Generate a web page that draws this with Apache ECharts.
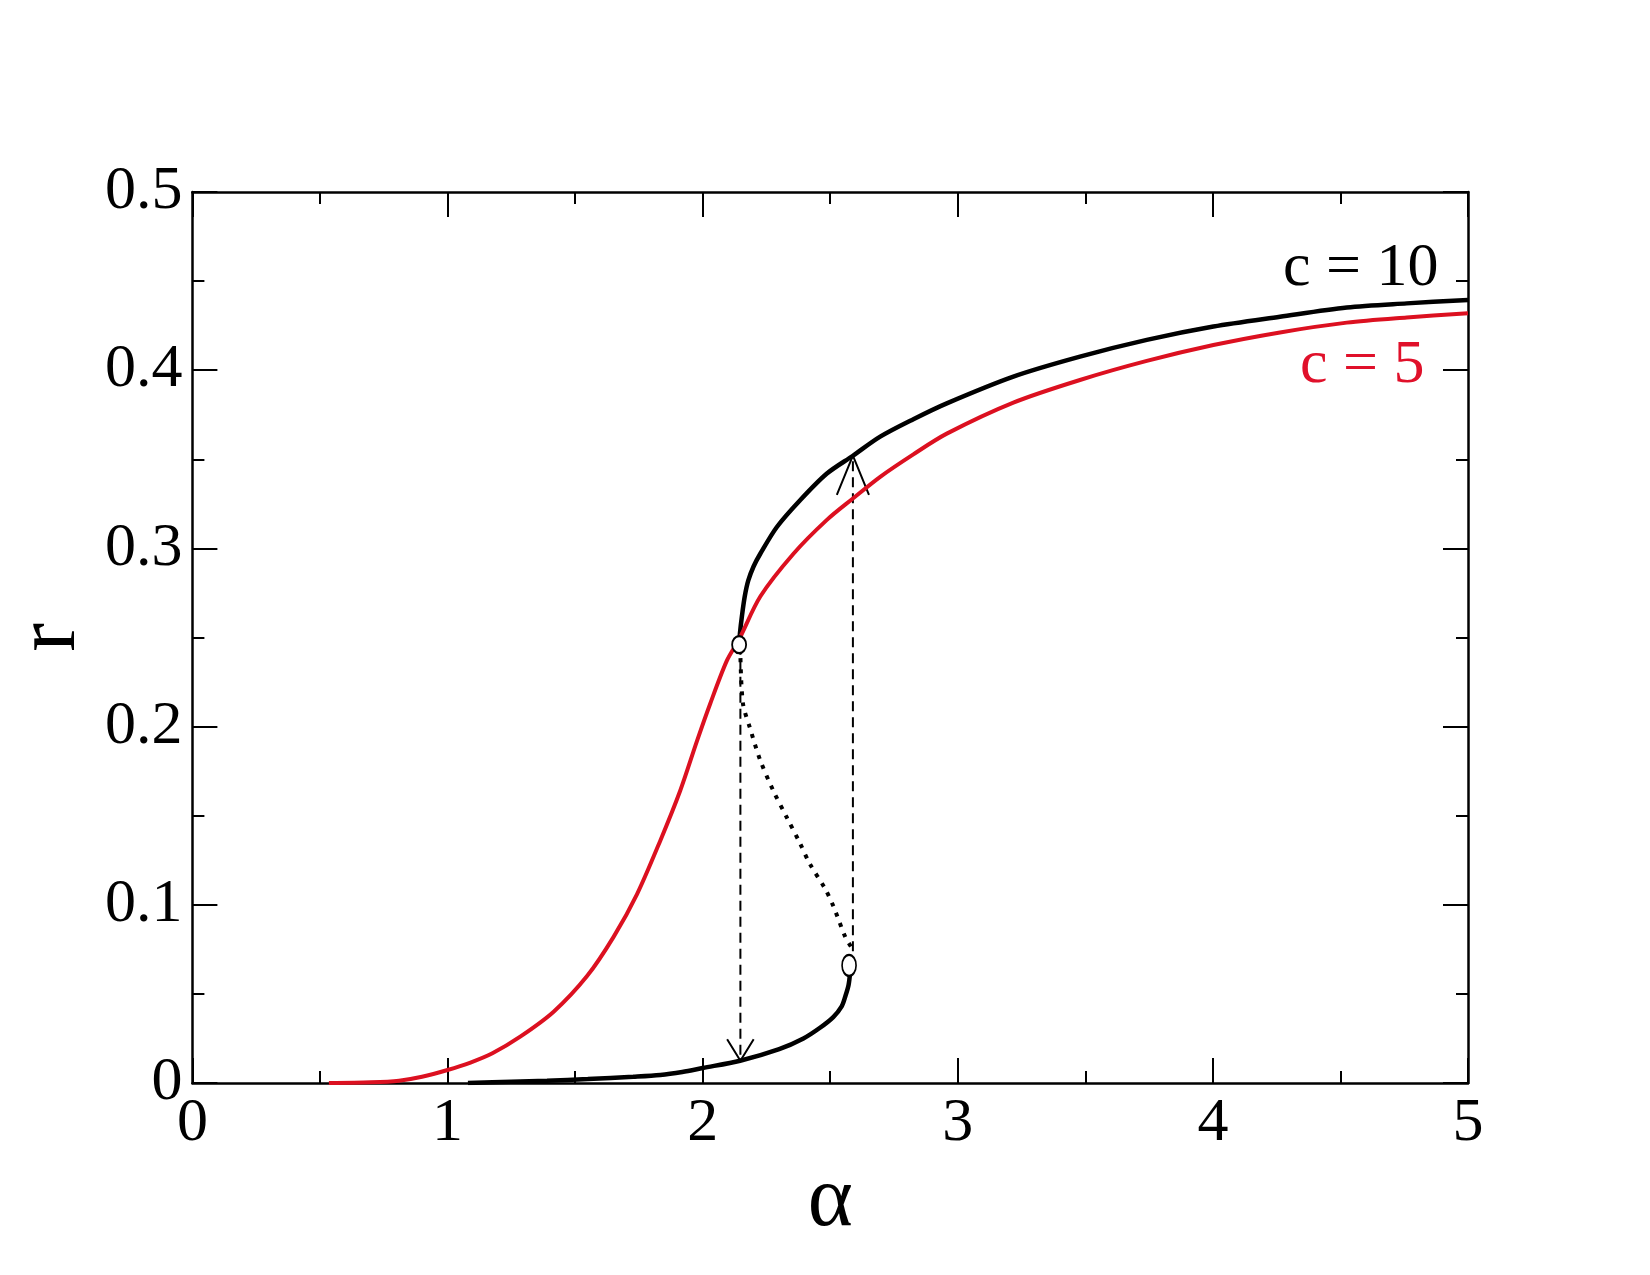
<!DOCTYPE html>
<html>
<head>
<meta charset="utf-8">
<script src="https://cdn.jsdelivr.net/npm/echarts@6/dist/echarts.min.js"></script>
<style>
    html, body { margin: 0; padding: 0; background: #fff; }
    #chart { width: 1650px; height: 1275px; }
</style>
</head>
<body>
<div id="chart"></div>
<script>
    // c = 10, lower stable branch
    var alphaLow10 = [1.08, 1.25, 1.39, 1.55, 1.728, 1.834, 1.92, 2.0, 2.147, 2.3, 2.395, 2.46, 2.512, 2.545, 2.559, 2.572, 2.578];
    var rLow10     = [0.0, 0.0007, 0.0013, 0.0022, 0.0035, 0.0045, 0.0062, 0.0084, 0.0125, 0.019, 0.025, 0.031, 0.037, 0.043, 0.0485, 0.055, 0.062];
    // c = 10, unstable branch (dotted)
    var alphaMid10 = [2.581, 2.559, 2.513, 2.48, 2.42, 2.38, 2.33, 2.277, 2.226, 2.186, 2.158, 2.148];
    var rMid10     = [0.0766, 0.082, 0.099, 0.109, 0.123, 0.135, 0.149, 0.164, 0.181, 0.199, 0.213, 0.24];
    // c = 10, upper stable branch
    var alphaUp10 = [2.143, 2.146, 2.154, 2.165, 2.179, 2.2, 2.226, 2.291, 2.382, 2.487, 2.589, 2.696, 2.826, 2.957, 3.218, 3.479, 3.741, 4.002, 4.263, 4.525, 4.76, 5.0];
    var rUp10     = [0.246, 0.252, 0.262, 0.273, 0.282, 0.29, 0.297, 0.312, 0.327, 0.342, 0.352, 0.3627, 0.3725, 0.3814, 0.3964, 0.4076, 0.417, 0.4245, 0.430, 0.4352, 0.4375, 0.4394];
    // c = 5
    var alpha5 = [0.535, 0.7, 0.81, 0.9, 1.0, 1.09, 1.176, 1.285, 1.416, 1.547, 1.651, 1.743, 1.834, 1.912, 1.978, 2.03, 2.095, 2.143, 2.226, 2.356, 2.487, 2.589, 2.696, 2.826, 2.957, 3.218, 3.479, 3.741, 4.002, 4.263, 4.525, 4.76, 5.0];
    var r5     = [0.0, 0.0004, 0.0013, 0.0035, 0.0073, 0.0115, 0.0167, 0.026, 0.040, 0.060, 0.082, 0.106, 0.136, 0.164, 0.192, 0.213, 0.237, 0.249, 0.273, 0.297, 0.316, 0.328, 0.3402, 0.3528, 0.3644, 0.3818, 0.3945, 0.4052, 0.4141, 0.4212, 0.4267, 0.4296, 0.432];
    // jumps (dashed) and turning points
    var jumpDownAlpha = 2.148, jumpDownFrom = 0.246, jumpDownTo = 0.0125;
    var jumpUpAlpha = 2.589, jumpUpFrom = 0.074, jumpUpTo = 0.352;
    var turnAlpha = [2.143, 2.574];
    var turnR     = [0.246, 0.066];
    var xTicks = [0, 1, 2, 3, 4, 5];
    var yTicks = [0, 0.1, 0.2, 0.3, 0.4, 0.5];

    function zip(xs, ys) {
        var out = [];
        for (var i = 0; i < xs.length; i++) out.push([xs[i], ys[i]]);
        return out;
    }

    var serif = 'Liberation Serif';
    var red = '#dc1020';

    function axisBase(pos, showLabel) {
        return {
            type: 'value',
            position: pos,
            axisLine: { show: true, onZero: false, lineStyle: { color: '#000', width: 2.5 } },
            axisTick: { show: true, inside: true, length: 25, lineStyle: { color: '#000', width: 2 } },
            minorTick: { show: true, splitNumber: 2, length: 12, lineStyle: { color: '#000', width: 2 } },
            splitLine: { show: false },
            minorSplitLine: { show: false },
            axisLabel: { show: showLabel, fontFamily: serif, fontSize: 62, color: '#000' }
        };
    }

    var xBottom = axisBase('bottom', true);
    xBottom.min = xTicks[0]; xBottom.max = xTicks[xTicks.length - 1]; xBottom.interval = 1;
    xBottom.axisLabel.margin = 10;
    xBottom.name = 'α';
    xBottom.nameLocation = 'middle';
    xBottom.nameGap = 33;
    xBottom.nameTextStyle = { fontFamily: serif, fontSize: 86, color: '#000' };
    var xTop = axisBase('top', false);
    xTop.min = 0; xTop.max = 5; xTop.interval = 1;

    var yLeft = axisBase('left', true);
    yLeft.min = yTicks[0]; yLeft.max = yTicks[yTicks.length - 1]; yLeft.interval = 0.1;
    yLeft.axisLabel.margin = 10;
    yLeft.name = 'r';
    yLeft.nameLocation = 'middle';
    yLeft.nameGap = 76;
    yLeft.nameRotate = 90;
    yLeft.nameTextStyle = { fontFamily: serif, fontSize: 86, color: '#000' };
    var yRight = axisBase('right', false);
    yRight.min = 0; yRight.max = 0.5; yRight.interval = 0.1;

    // open V arrow heads at the ends of the jumps
    var downHead = [[jumpDownAlpha - 0.052, jumpDownTo + 0.012], [jumpDownAlpha, jumpDownTo], [jumpDownAlpha + 0.052, jumpDownTo + 0.012]];
    var upHead = [[jumpUpAlpha - 0.063, jumpUpTo - 0.022], [jumpUpAlpha, jumpUpTo], [jumpUpAlpha + 0.063, jumpUpTo - 0.022]];

    var lineDefaults = { type: 'line', symbol: 'none', showSymbol: false, xAxisIndex: 0, yAxisIndex: 0, silent: true };

    var option = {
        animation: false,
        backgroundColor: '#fff',
        grid: { left: 192, top: 192, width: 1276, height: 891, containLabel: false },
        xAxis: [xBottom, xTop],
        yAxis: [yLeft, yRight],
        series: [
            Object.assign({}, lineDefaults, { data: zip(alphaLow10, rLow10), smooth: 0.3, lineStyle: { color: '#000', width: 4.5 } }),
            Object.assign({}, lineDefaults, { data: zip(alphaUp10, rUp10), smooth: 0.3, lineStyle: { color: '#000', width: 4.5 } }),
            Object.assign({}, lineDefaults, { data: zip(alphaMid10, rMid10), smooth: 0.3, lineStyle: { color: '#000', width: 4, type: [4, 7] } }),
            Object.assign({}, lineDefaults, { data: [[jumpDownAlpha, jumpDownFrom], [jumpDownAlpha, jumpDownTo]], lineStyle: { color: '#000', width: 2, type: [10, 6] } }),
            Object.assign({}, lineDefaults, { data: [[jumpUpAlpha, jumpUpFrom], [jumpUpAlpha, jumpUpTo]], lineStyle: { color: '#000', width: 2, type: [10, 6] } }),
            Object.assign({}, lineDefaults, { data: downHead, lineStyle: { color: '#000', width: 2 } }),
            Object.assign({}, lineDefaults, { data: upHead, lineStyle: { color: '#000', width: 2 } }),
            Object.assign({}, lineDefaults, { data: zip(alpha5, r5), smooth: 0.3, lineStyle: { color: red, width: 4 } }),
            {
                type: 'scatter', silent: true, z: 5,
                data: zip(turnAlpha, turnR),
                symbol: 'circle',
                symbolSize: function (val, p) { return p.dataIndex === 0 ? [14, 17] : [14, 21]; },
                itemStyle: { color: '#fff', borderColor: '#000', borderWidth: 2, opacity: 1 }
            }
        ],
        graphic: [
            { type: 'text', left: 1283, top: 238, style: { text: 'c = 10', fontFamily: serif, fontSize: 62, fill: '#000' } },
            { type: 'text', left: 1300, top: 335, style: { text: 'c = 5', fontFamily: serif, fontSize: 62, fill: '#e0102a' } }
        ]
    };

    var myChart = echarts.init(document.getElementById('chart'));
    myChart.setOption(option);
</script>
</body>
</html>
